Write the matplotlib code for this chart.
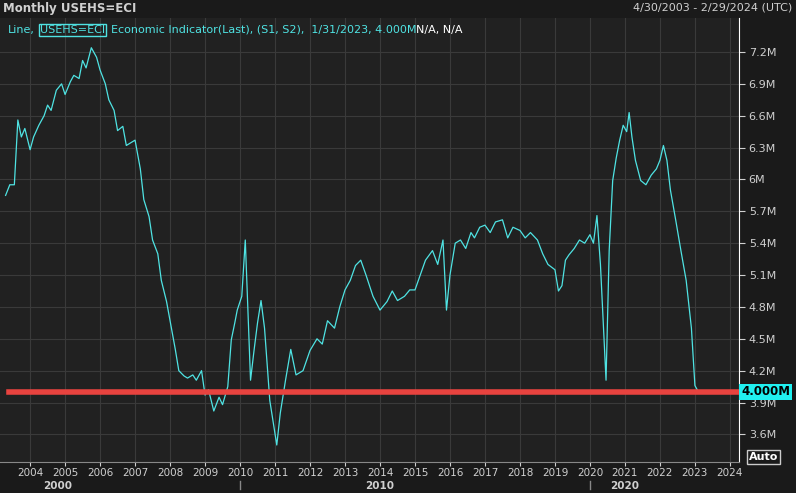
import matplotlib
matplotlib.use("Agg")
import matplotlib.pyplot as plt
import numpy as np

# ── Data ───────────────────────────────────────────────────────────────────
t = [2003.30, 2003.42, 2003.55, 2003.65, 2003.75, 2003.85, 2004.0, 2004.1, 2004.25, 2004.4,
     2004.5, 2004.6, 2004.75, 2004.9, 2005.0, 2005.15, 2005.25, 2005.4, 2005.5, 2005.6,
     2005.75, 2005.9, 2006.0, 2006.15, 2006.25, 2006.4, 2006.5, 2006.65, 2006.75, 2006.9,
     2007.0, 2007.15, 2007.25, 2007.4, 2007.5, 2007.65, 2007.75, 2007.9, 2008.0, 2008.15,
     2008.25, 2008.4, 2008.5, 2008.65, 2008.75, 2008.9, 2009.0, 2009.1, 2009.25, 2009.4,
     2009.5, 2009.65, 2009.75, 2009.85, 2009.92, 2010.05, 2010.15, 2010.3, 2010.4, 2010.5,
     2010.6, 2010.7, 2010.85, 2011.05, 2011.15, 2011.3, 2011.45, 2011.6, 2011.8, 2012.0,
     2012.2, 2012.35, 2012.5, 2012.7, 2012.85, 2013.0, 2013.15, 2013.3, 2013.45, 2013.6,
     2013.8, 2014.0, 2014.2, 2014.35, 2014.5, 2014.7, 2014.85, 2015.0, 2015.15, 2015.3,
     2015.5, 2015.65, 2015.8, 2015.9, 2016.0, 2016.15, 2016.3, 2016.45, 2016.6, 2016.7,
     2016.85, 2017.0, 2017.15, 2017.3, 2017.5, 2017.65, 2017.8, 2018.0, 2018.15, 2018.3,
     2018.5, 2018.65, 2018.8, 2019.0, 2019.1, 2019.2, 2019.3, 2019.4, 2019.55, 2019.7,
     2019.85, 2020.0, 2020.1, 2020.2, 2020.3, 2020.46, 2020.55, 2020.65, 2020.75, 2020.85,
     2020.95, 2021.05, 2021.12, 2021.2, 2021.3, 2021.45, 2021.6, 2021.75, 2021.9, 2022.0,
     2022.1, 2022.2, 2022.3, 2022.45, 2022.6, 2022.75, 2022.9, 2023.0, 2023.1]
v = [5.85, 5.95, 5.95, 6.56, 6.40, 6.48, 6.28, 6.40, 6.51, 6.60,
     6.70, 6.65, 6.84, 6.90, 6.80, 6.92, 6.98, 6.95, 7.12, 7.05,
     7.24, 7.15, 7.03, 6.90, 6.75, 6.65, 6.46, 6.50, 6.32, 6.35,
     6.37, 6.10, 5.81, 5.65, 5.43, 5.30, 5.05, 4.85, 4.67, 4.40,
     4.20, 4.15, 4.13, 4.16, 4.11, 4.20, 3.97, 4.02, 3.82, 3.95,
     3.88, 4.05, 4.49, 4.65, 4.77, 4.90, 5.43, 4.11, 4.39, 4.65,
     4.86, 4.60, 3.92, 3.50, 3.80, 4.11, 4.40, 4.16, 4.20, 4.39,
     4.50, 4.45, 4.67, 4.60, 4.80, 4.96, 5.05, 5.19, 5.24, 5.10,
     4.90, 4.77, 4.85, 4.95, 4.86, 4.90, 4.96, 4.96, 5.10, 5.24,
     5.33, 5.20, 5.43, 4.77, 5.10, 5.40, 5.43, 5.35, 5.50, 5.45,
     5.55, 5.57, 5.50, 5.60, 5.62, 5.45, 5.55, 5.52, 5.45, 5.50,
     5.43, 5.30, 5.20, 5.15, 4.95, 5.00, 5.24, 5.29, 5.35, 5.43,
     5.40, 5.48, 5.40, 5.66, 5.20, 4.11, 5.33, 5.99, 6.20, 6.37,
     6.51, 6.45, 6.63, 6.40, 6.18, 5.99, 5.95, 6.04, 6.10, 6.18,
     6.32, 6.18, 5.90, 5.62, 5.33, 5.05, 4.60, 4.06, 4.00]

y_ticks = [3.6, 3.9, 4.2, 4.5, 4.8, 5.1, 5.4, 5.7, 6.0, 6.3, 6.6, 6.9, 7.2]
y_labels = ["3.6M", "3.9M", "4.2M", "4.5M", "4.8M", "5.1M", "5.4M", "5.7M", "6M",
            "6.3M", "6.6M", "6.9M", "7.2M"]
years = list(range(2004, 2025))
last_value = 4.0

# ── Style ─────────────────────────────────────────────────────────────────
BG = "#1a1a1a"
PLOT_BG = "#212121"
GRID = "#3a3a3a"
CYAN = "#4fe3e3"
TXT = "#d0d0d0"

fig = plt.figure(figsize=(7.96, 4.93), dpi=100, facecolor=BG)
ax = fig.add_axes([0.0, 31 / 493, 739 / 796, 444 / 493])
ax.set_facecolor(PLOT_BG)

ax.plot(t, v, color=CYAN, lw=0.9)
ax.axhline(last_value, xmin=0.012, color="#e8433f", lw=4, zorder=3)

ax.set_xlim(2003.14, 2024.26)
ax.set_ylim(3.34, 7.52)
ax.yaxis.tick_right()
ax.set_yticks(y_ticks)
ax.set_yticklabels(y_labels)
ax.set_xticks(years)
ax.set_xticklabels([str(y) for y in years])
ax.tick_params(colors=TXT, labelsize=8, length=4, direction="out")
ax.tick_params(axis="x", labelsize=7.5, length=3, pad=1)
ax.tick_params(axis="y", pad=3)
ax.grid(True, color=GRID, lw=0.8)
for s in ["top", "left"]:
    ax.spines[s].set_visible(False)
ax.spines["right"].set_color("white")
ax.spines["bottom"].set_color("#888888")

# decade labels
for dec, xpos in [(2000, 2004.8), (2010, 2014.0), (2020, 2021.0)]:
    ax.text(xpos, -0.042, str(dec), transform=ax.get_xaxis_transform(),
            color=TXT, fontsize=7.5, fontweight="bold", ha="center", va="top")
for xpos in [2010.0, 2020.0]:
    ax.plot([xpos, xpos], [-0.042, -0.06], transform=ax.get_xaxis_transform(),
            color="#888888", lw=1, clip_on=False)

# last value tag
ax.text(1.003, (last_value - 3.34) / (7.52 - 3.34), "4.000M", transform=ax.transAxes,
        color="black", fontsize=8.5, fontweight="bold", va="center", ha="left",
        bbox=dict(boxstyle="square,pad=0.15", fc="#20f0f0", ec="none"))
fig.text(749 / 796, 31 / 493, "Auto", color="white", fontsize=8, fontweight="bold",
         va="bottom", ha="left",
         bbox=dict(boxstyle="square,pad=0.15", fc="none", ec="#cccccc"))

# header
fig.text(0.004, 0.995, "Monthly USEHS=ECI", color=TXT, fontsize=8.5, fontweight="bold",
         va="top", ha="left")
fig.text(0.995, 0.995, "4/30/2003 - 2/29/2024 (UTC)", color=TXT, fontsize=8,
         va="top", ha="right")
t1 = ax.text(0.01, 0.985, "Line,", transform=ax.transAxes, color=CYAN, fontsize=8, va="top")
t2 = ax.annotate("USEHS=ECI", xy=(1, 0), xycoords=t1, xytext=(4, 0),
                 textcoords="offset points", color=CYAN, fontsize=8, va="bottom",
                 bbox=dict(boxstyle="square,pad=0.1", fc="none", ec=CYAN))
t3 = ax.annotate("Economic Indicator(Last), (S1, S2),  1/31/2023, 4.000M",
                 xy=(1, 0), xycoords=t2, xytext=(4, 0), textcoords="offset points",
                 color=CYAN, fontsize=8, va="bottom")
ax.annotate("N/A, N/A", xy=(1, 0), xycoords=t3, xytext=(0, 0),
            textcoords="offset points", color="white", fontsize=8, va="bottom")

fig.savefig("out.png", dpi=100, facecolor=BG)
